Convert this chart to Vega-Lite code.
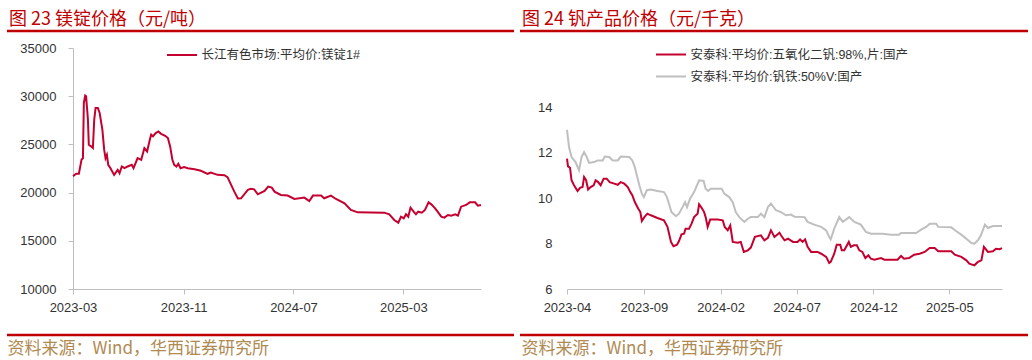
{
"$schema": "https://vega.github.io/schema/vega-lite/v6.json",
"background": "white",
"padding": {"left": 5, "top": 9, "right": 0, "bottom": 0},
"spacing": 6,
"bounds": "flush",
"resolve": {"scale": {"color": "independent", "x": "independent", "y": "independent"}, "legend": {"color": "independent"}},
"config": {
  "font": "Liberation Sans, Noto Sans CJK SC",
  "axis": {"grid": false, "labelFont": "Liberation Sans", "labelFontSize": 13, "labelColor": "#333333", "domainColor": "#bfbfbf", "tickColor": "#bfbfbf", "domainWidth": 1, "tickWidth": 1},
  "legend": {"labelFont": "Liberation Sans, Noto Sans CJK SC", "labelFontSize": 12.5, "labelColor": "#333333", "symbolType": "M-2,0H2", "symbolSize": 225, "symbolStrokeWidth": 2, "labelOffset": 11, "rowPadding": 7, "padding": 0, "orient": "none", "title": null, "labelLimit": 400},
  "title": {"font": "Noto Sans CJK SC", "fontSize": 18, "color": "#c00000", "fontWeight": "normal", "anchor": "start", "frame": "group", "offset": 2, "dx": 2, "baseline": "bottom"}
},
"datasets": {
"mg": [
{"date":"2023-03-01","value":21700},{"date":"2023-03-08","value":21950},{"date":"2023-03-14","value":21950},{"date":"2023-03-20","value":23440},{"date":"2023-03-23","value":23570},{"date":"2023-03-25","value":29300},{"date":"2023-03-28","value":30070},{"date":"2023-03-30","value":30000},{"date":"2023-04-03","value":27600},{"date":"2023-04-05","value":24970},{"date":"2023-04-10","value":24800},{"date":"2023-04-14","value":24620},{"date":"2023-04-17","value":27570},{"date":"2023-04-20","value":28780},{"date":"2023-04-25","value":28780},{"date":"2023-04-29","value":28260},{"date":"2023-05-05","value":26530},{"date":"2023-05-09","value":24450},{"date":"2023-05-12","value":23570},{"date":"2023-05-15","value":23920},{"date":"2023-05-18","value":22880},{"date":"2023-05-23","value":22530},{"date":"2023-05-31","value":21840},{"date":"2023-06-08","value":22360},{"date":"2023-06-12","value":22010},{"date":"2023-06-17","value":22710},{"date":"2023-06-23","value":22530},{"date":"2023-06-30","value":22710},{"date":"2023-07-09","value":22880},{"date":"2023-07-13","value":22530},{"date":"2023-07-22","value":23570},{"date":"2023-07-30","value":23400},{"date":"2023-08-06","value":24620},{"date":"2023-08-12","value":24270},{"date":"2023-08-18","value":25490},{"date":"2023-08-21","value":26010},{"date":"2023-08-25","value":25840},{"date":"2023-08-31","value":26180},{"date":"2023-09-06","value":26350},{"date":"2023-09-12","value":26100},{"date":"2023-09-21","value":25900},{"date":"2023-09-27","value":25660},{"date":"2023-10-02","value":24790},{"date":"2023-10-07","value":23400},{"date":"2023-10-11","value":22880},{"date":"2023-10-16","value":22710},{"date":"2023-10-20","value":22990},{"date":"2023-10-25","value":22530},{"date":"2023-11-02","value":22640},{"date":"2023-11-10","value":22530},{"date":"2023-11-25","value":22430},{"date":"2023-12-09","value":22260},{"date":"2023-12-24","value":21950},{"date":"2023-12-31","value":22080},{"date":"2024-01-15","value":21840},{"date":"2024-01-30","value":21800},{"date":"2024-02-06","value":21600},{"date":"2024-02-14","value":20800},{"date":"2024-02-21","value":20100},{"date":"2024-02-29","value":19400},{"date":"2024-03-07","value":19410},{"date":"2024-03-22","value":20280},{"date":"2024-03-29","value":20390},{"date":"2024-04-05","value":20340},{"date":"2024-04-13","value":19820},{"date":"2024-04-28","value":20180},{"date":"2024-05-06","value":20630},{"date":"2024-05-14","value":20520},{"date":"2024-05-20","value":20100},{"date":"2024-06-03","value":19760},{"date":"2024-06-18","value":19700},{"date":"2024-07-03","value":19340},{"date":"2024-07-25","value":19480},{"date":"2024-08-05","value":19130},{"date":"2024-08-13","value":19690},{"date":"2024-08-31","value":19690},{"date":"2024-09-07","value":19410},{"date":"2024-09-22","value":19690},{"date":"2024-10-03","value":19340},{"date":"2024-10-22","value":18890},{"date":"2024-11-05","value":18200},{"date":"2024-11-20","value":17950},{"date":"2025-01-18","value":17920},{"date":"2025-01-29","value":17750},{"date":"2025-02-09","value":17160},{"date":"2025-02-18","value":16880},{"date":"2025-02-24","value":17500},{"date":"2025-03-02","value":17330},{"date":"2025-03-07","value":17750},{"date":"2025-03-12","value":17500},{"date":"2025-03-17","value":18440},{"date":"2025-03-24","value":18020},{"date":"2025-03-29","value":17750},{"date":"2025-04-03","value":18020},{"date":"2025-04-11","value":17920},{"date":"2025-04-18","value":18200},{"date":"2025-04-26","value":18990},{"date":"2025-05-02","value":18780},{"date":"2025-05-09","value":18440},{"date":"2025-05-16","value":18020},{"date":"2025-05-24","value":17500},{"date":"2025-05-31","value":17400},{"date":"2025-06-08","value":17680},{"date":"2025-06-15","value":17610},{"date":"2025-06-24","value":17750},{"date":"2025-06-30","value":17610},{"date":"2025-07-07","value":18540},{"date":"2025-07-18","value":18720},{"date":"2025-07-26","value":18990},{"date":"2025-08-07","value":18990},{"date":"2025-08-13","value":18650},{"date":"2025-08-20","value":18720}
],
"v": [
{"s":"r","date":"2023-04-01","value":11.73},{"s":"r","date":"2023-04-03","value":11.39},{"s":"r","date":"2023-04-07","value":11.33},{"s":"r","date":"2023-04-10","value":10.78},{"s":"r","date":"2023-04-15","value":10.56},{"s":"r","date":"2023-04-22","value":10.31},{"s":"r","date":"2023-04-27","value":10.45},{"s":"r","date":"2023-05-02","value":10.48},{"s":"r","date":"2023-05-05","value":10.92},{"s":"r","date":"2023-05-09","value":10.78},{"s":"r","date":"2023-05-13","value":10.37},{"s":"r","date":"2023-05-18","value":10.48},{"s":"r","date":"2023-05-24","value":10.56},{"s":"r","date":"2023-05-28","value":10.78},{"s":"r","date":"2023-06-02","value":10.7},{"s":"r","date":"2023-06-07","value":10.56},{"s":"r","date":"2023-06-13","value":10.85},{"s":"r","date":"2023-06-19","value":10.85},{"s":"r","date":"2023-06-25","value":10.7},{"s":"r","date":"2023-07-04","value":10.63},{"s":"r","date":"2023-07-11","value":10.58},{"s":"r","date":"2023-07-17","value":10.7},{"s":"r","date":"2023-07-24","value":10.63},{"s":"r","date":"2023-07-31","value":10.48},{"s":"r","date":"2023-08-05","value":10.26},{"s":"r","date":"2023-08-09","value":10.12},{"s":"r","date":"2023-08-14","value":9.82},{"s":"r","date":"2023-08-21","value":9.53},{"s":"r","date":"2023-08-25","value":9.38},{"s":"r","date":"2023-08-28","value":8.99},{"s":"r","date":"2023-09-02","value":9.16},{"s":"r","date":"2023-09-08","value":9.31},{"s":"r","date":"2023-09-15","value":9.24},{"s":"r","date":"2023-09-28","value":9.12},{"s":"r","date":"2023-10-11","value":9.02},{"s":"r","date":"2023-10-18","value":8.73},{"s":"r","date":"2023-10-25","value":8.07},{"s":"r","date":"2023-10-30","value":7.88},{"s":"r","date":"2023-11-06","value":7.95},{"s":"r","date":"2023-11-10","value":8.11},{"s":"r","date":"2023-11-15","value":8.4},{"s":"r","date":"2023-11-20","value":8.43},{"s":"r","date":"2023-11-23","value":8.65},{"s":"r","date":"2023-11-30","value":8.65},{"s":"r","date":"2023-12-05","value":8.87},{"s":"r","date":"2023-12-10","value":9.16},{"s":"r","date":"2023-12-17","value":9.31},{"s":"r","date":"2023-12-20","value":9.72},{"s":"r","date":"2023-12-25","value":9.57},{"s":"r","date":"2023-12-30","value":9.38},{"s":"r","date":"2024-01-02","value":9.16},{"s":"r","date":"2024-01-06","value":8.73},{"s":"r","date":"2024-01-11","value":9.05},{"s":"r","date":"2024-01-26","value":9.05},{"s":"r","date":"2024-02-05","value":9.02},{"s":"r","date":"2024-02-09","value":8.73},{"s":"r","date":"2024-02-15","value":8.58},{"s":"r","date":"2024-02-20","value":8.79},{"s":"r","date":"2024-02-25","value":8.07},{"s":"r","date":"2024-03-06","value":8.03},{"s":"r","date":"2024-03-12","value":8.07},{"s":"r","date":"2024-03-18","value":7.63},{"s":"r","date":"2024-03-26","value":7.7},{"s":"r","date":"2024-04-01","value":7.82},{"s":"r","date":"2024-04-09","value":8.29},{"s":"r","date":"2024-04-21","value":8.36},{"s":"r","date":"2024-04-28","value":8.14},{"s":"r","date":"2024-05-05","value":8.25},{"s":"r","date":"2024-05-11","value":8.58},{"s":"r","date":"2024-05-18","value":8.29},{"s":"r","date":"2024-05-28","value":8.47},{"s":"r","date":"2024-05-31","value":8.36},{"s":"r","date":"2024-06-07","value":8.14},{"s":"r","date":"2024-06-14","value":8.21},{"s":"r","date":"2024-06-24","value":8.07},{"s":"r","date":"2024-07-03","value":8.07},{"s":"r","date":"2024-07-08","value":8.18},{"s":"r","date":"2024-07-13","value":8.07},{"s":"r","date":"2024-07-18","value":8.18},{"s":"r","date":"2024-07-23","value":7.85},{"s":"r","date":"2024-07-30","value":7.63},{"s":"r","date":"2024-08-12","value":7.63},{"s":"r","date":"2024-08-19","value":7.55},{"s":"r","date":"2024-08-29","value":7.41},{"s":"r","date":"2024-09-04","value":7.14},{"s":"r","date":"2024-09-07","value":7.19},{"s":"r","date":"2024-09-14","value":7.55},{"s":"r","date":"2024-09-19","value":7.95},{"s":"r","date":"2024-09-26","value":7.95},{"s":"r","date":"2024-09-29","value":7.7},{"s":"r","date":"2024-10-04","value":7.7},{"s":"r","date":"2024-10-13","value":8.07},{"s":"r","date":"2024-10-17","value":7.85},{"s":"r","date":"2024-10-23","value":7.92},{"s":"r","date":"2024-10-29","value":7.92},{"s":"r","date":"2024-11-03","value":7.7},{"s":"r","date":"2024-11-09","value":7.63},{"s":"r","date":"2024-11-15","value":7.36},{"s":"r","date":"2024-11-21","value":7.48},{"s":"r","date":"2024-11-26","value":7.33},{"s":"r","date":"2024-12-03","value":7.29},{"s":"r","date":"2024-12-16","value":7.36},{"s":"r","date":"2024-12-23","value":7.29},{"s":"r","date":"2025-01-18","value":7.29},{"s":"r","date":"2025-01-25","value":7.45},{"s":"r","date":"2025-01-31","value":7.33},{"s":"r","date":"2025-02-10","value":7.36},{"s":"r","date":"2025-02-20","value":7.51},{"s":"r","date":"2025-03-03","value":7.55},{"s":"r","date":"2025-03-13","value":7.63},{"s":"r","date":"2025-03-23","value":7.8},{"s":"r","date":"2025-04-02","value":7.8},{"s":"r","date":"2025-04-09","value":7.66},{"s":"r","date":"2025-05-05","value":7.66},{"s":"r","date":"2025-05-12","value":7.51},{"s":"r","date":"2025-05-25","value":7.41},{"s":"r","date":"2025-06-04","value":7.26},{"s":"r","date":"2025-06-10","value":7.11},{"s":"r","date":"2025-06-20","value":7.04},{"s":"r","date":"2025-06-27","value":7.19},{"s":"r","date":"2025-07-04","value":7.26},{"s":"r","date":"2025-07-09","value":7.85},{"s":"r","date":"2025-07-17","value":7.63},{"s":"r","date":"2025-07-27","value":7.66},{"s":"r","date":"2025-08-02","value":7.77},{"s":"r","date":"2025-08-09","value":7.75},{"s":"r","date":"2025-08-14","value":7.8},
{"s":"g","date":"2023-04-01","value":13.0},{"s":"g","date":"2023-04-05","value":12.24},{"s":"g","date":"2023-04-10","value":11.8},{"s":"g","date":"2023-04-18","value":11.58},{"s":"g","date":"2023-04-25","value":11.22},{"s":"g","date":"2023-04-30","value":11.8},{"s":"g","date":"2023-05-05","value":12.02},{"s":"g","date":"2023-05-10","value":11.82},{"s":"g","date":"2023-05-15","value":11.54},{"s":"g","date":"2023-05-25","value":11.58},{"s":"g","date":"2023-06-01","value":11.65},{"s":"g","date":"2023-06-11","value":11.65},{"s":"g","date":"2023-06-15","value":11.82},{"s":"g","date":"2023-06-24","value":11.8},{"s":"g","date":"2023-07-01","value":11.65},{"s":"g","date":"2023-07-11","value":11.65},{"s":"g","date":"2023-07-17","value":11.82},{"s":"g","date":"2023-08-03","value":11.8},{"s":"g","date":"2023-08-09","value":11.65},{"s":"g","date":"2023-08-14","value":11.36},{"s":"g","date":"2023-08-18","value":11.0},{"s":"g","date":"2023-08-23","value":10.56},{"s":"g","date":"2023-08-28","value":10.19},{"s":"g","date":"2023-09-01","value":10.04},{"s":"g","date":"2023-09-07","value":10.34},{"s":"g","date":"2023-09-15","value":10.37},{"s":"g","date":"2023-09-28","value":10.31},{"s":"g","date":"2023-10-11","value":10.26},{"s":"g","date":"2023-10-17","value":10.04},{"s":"g","date":"2023-10-21","value":9.75},{"s":"g","date":"2023-10-26","value":9.38},{"s":"g","date":"2023-11-04","value":9.2},{"s":"g","date":"2023-11-10","value":9.31},{"s":"g","date":"2023-11-17","value":9.6},{"s":"g","date":"2023-11-22","value":9.82},{"s":"g","date":"2023-11-26","value":9.6},{"s":"g","date":"2023-12-02","value":9.97},{"s":"g","date":"2023-12-10","value":10.26},{"s":"g","date":"2023-12-20","value":10.78},{"s":"g","date":"2023-12-29","value":10.75},{"s":"g","date":"2024-01-02","value":10.41},{"s":"g","date":"2024-01-07","value":10.31},{"s":"g","date":"2024-01-12","value":10.41},{"s":"g","date":"2024-02-03","value":10.41},{"s":"g","date":"2024-02-08","value":10.19},{"s":"g","date":"2024-02-18","value":10.04},{"s":"g","date":"2024-02-25","value":9.82},{"s":"g","date":"2024-03-02","value":9.38},{"s":"g","date":"2024-03-09","value":9.16},{"s":"g","date":"2024-03-19","value":8.95},{"s":"g","date":"2024-03-26","value":9.09},{"s":"g","date":"2024-04-01","value":9.16},{"s":"g","date":"2024-04-15","value":9.16},{"s":"g","date":"2024-04-21","value":9.31},{"s":"g","date":"2024-04-28","value":9.16},{"s":"g","date":"2024-05-05","value":9.6},{"s":"g","date":"2024-05-11","value":9.75},{"s":"g","date":"2024-05-21","value":9.46},{"s":"g","date":"2024-05-31","value":9.38},{"s":"g","date":"2024-06-10","value":9.24},{"s":"g","date":"2024-06-20","value":9.27},{"s":"g","date":"2024-06-27","value":9.18},{"s":"g","date":"2024-07-17","value":9.16},{"s":"g","date":"2024-07-23","value":8.95},{"s":"g","date":"2024-08-05","value":8.83},{"s":"g","date":"2024-08-19","value":8.73},{"s":"g","date":"2024-08-29","value":8.58},{"s":"g","date":"2024-09-04","value":8.29},{"s":"g","date":"2024-09-07","value":8.18},{"s":"g","date":"2024-09-14","value":8.65},{"s":"g","date":"2024-09-24","value":9.16},{"s":"g","date":"2024-10-01","value":8.95},{"s":"g","date":"2024-10-14","value":9.16},{"s":"g","date":"2024-10-24","value":8.95},{"s":"g","date":"2024-11-06","value":8.83},{"s":"g","date":"2024-11-16","value":8.51},{"s":"g","date":"2024-11-26","value":8.43},{"s":"g","date":"2024-12-19","value":8.43},{"s":"g","date":"2025-01-05","value":8.39},{"s":"g","date":"2025-01-21","value":8.39},{"s":"g","date":"2025-01-25","value":8.46},{"s":"g","date":"2025-02-24","value":8.46},{"s":"g","date":"2025-03-06","value":8.61},{"s":"g","date":"2025-03-16","value":8.73},{"s":"g","date":"2025-03-23","value":8.87},{"s":"g","date":"2025-04-05","value":8.87},{"s":"g","date":"2025-04-09","value":8.73},{"s":"g","date":"2025-05-05","value":8.71},{"s":"g","date":"2025-05-15","value":8.54},{"s":"g","date":"2025-05-25","value":8.39},{"s":"g","date":"2025-06-04","value":8.21},{"s":"g","date":"2025-06-14","value":8.02},{"s":"g","date":"2025-06-20","value":7.99},{"s":"g","date":"2025-06-27","value":8.14},{"s":"g","date":"2025-07-03","value":8.36},{"s":"g","date":"2025-07-11","value":8.83},{"s":"g","date":"2025-07-17","value":8.68},{"s":"g","date":"2025-07-27","value":8.77},{"s":"g","date":"2025-08-14","value":8.77}
]
},
"hconcat": [
{
  "width": 507, "height": 304,
  "view": {"stroke": "#c00000", "strokeWidth": 2.5, "strokeDash": [507, 304]},
  "title": {"text": "图 23 镁锭价格（元/吨）"},
  "data": {"name": "mg"},
  "transform": [{"calculate": "'长江有色市场:平均价:镁锭1#'", "as": "series"}],
  "mark": {"type": "line", "strokeWidth": 2},
  "encoding": {
    "x": {"field": "date", "type": "temporal",
      "scale": {"type": "utc", "domain": [{"year": 2023, "month": 3, "date": 1, "utc": true}, {"year": 2025, "month": 8, "date": 20, "utc": true}], "range": [66, 474]},
      "axis": {"orient": "bottom", "offset": -46, "format": "%Y-%m", "values": [{"year": 2023, "month": 3, "date": 1, "utc": true}, {"year": 2023, "month": 11, "date": 1, "utc": true}, {"year": 2024, "month": 7, "date": 1, "utc": true}, {"year": 2025, "month": 3, "date": 1, "utc": true}], "tickSize": 5, "labelPadding": 7, "labelFlush": false, "labelOverlap": false,
        "title": "资料来源：Wind，华西证券研究所", "titleX": 0, "titleY": 64, "titleAlign": "left", "titleAnchor": null, "titleBaseline": "alphabetic", "titleFont": "Noto Sans CJK SC", "titleFontSize": 17, "titleFontWeight": "normal", "titleColor": "#b08a52"}},
    "y": {"field": "value", "type": "quantitative",
      "scale": {"domain": [10000, 35000], "range": [258, 17], "nice": false, "zero": false},
      "axis": {"orient": "left", "offset": -66, "values": [10000, 15000, 20000, 25000, 30000, 35000], "format": "d", "tickSize": 5, "labelPadding": 12, "title": null}},
    "color": {"field": "series", "type": "nominal", "scale": {"domain": ["长江有色市场:平均价:镁锭1#"], "range": ["#c3002f"]}, "legend": {"legendX": 166.5, "legendY": 15.5}}
  }
},
{
  "width": 508, "height": 304,
  "view": {"stroke": "#c00000", "strokeWidth": 2.5, "strokeDash": [508, 304]},
  "title": {"text": "图 24 钒产品价格（元/千克）"},
  "data": {"name": "v"},
  "transform": [{"calculate": "datum.s === 'r' ? '安泰科:平均价:五氧化二钒:98%,片:国产' : '安泰科:平均价:钒铁:50%V:国产'", "as": "series"}],
  "mark": {"type": "line", "strokeWidth": 2},
  "encoding": {
    "x": {"field": "date", "type": "temporal",
      "scale": {"type": "utc", "domain": [{"year": 2023, "month": 4, "date": 1, "utc": true}, {"year": 2025, "month": 8, "date": 14, "utc": true}], "range": [47, 482]},
      "axis": {"orient": "bottom", "offset": -46, "format": "%Y-%m", "values": [{"year": 2023, "month": 4, "date": 1, "utc": true}, {"year": 2023, "month": 9, "date": 1, "utc": true}, {"year": 2024, "month": 2, "date": 1, "utc": true}, {"year": 2024, "month": 7, "date": 1, "utc": true}, {"year": 2024, "month": 12, "date": 1, "utc": true}, {"year": 2025, "month": 5, "date": 1, "utc": true}], "tickSize": 5, "labelPadding": 7, "labelFlush": false, "labelOverlap": false,
        "title": "资料来源：Wind，华西证券研究所", "titleX": 1, "titleY": 64, "titleAlign": "left", "titleAnchor": null, "titleBaseline": "alphabetic", "titleFont": "Noto Sans CJK SC", "titleFontSize": 17, "titleFontWeight": "normal", "titleColor": "#b08a52"}},
    "y": {"field": "value", "type": "quantitative",
      "scale": {"domain": [6, 14], "range": [258, 76], "nice": false, "zero": false},
      "axis": {"orient": "left", "offset": -47, "values": [6, 8, 10, 12, 14], "domain": false, "ticks": false, "tickSize": 0, "labelPadding": 15, "title": null}},
    "color": {"field": "series", "type": "nominal", "scale": {"domain": ["安泰科:平均价:五氧化二钒:98%,片:国产", "安泰科:平均价:钒铁:50%V:国产"], "range": ["#c3002f", "#bfbfbf"]}, "legend": {"legendX": 142.5, "legendY": 15}}
  }
}
]
}
